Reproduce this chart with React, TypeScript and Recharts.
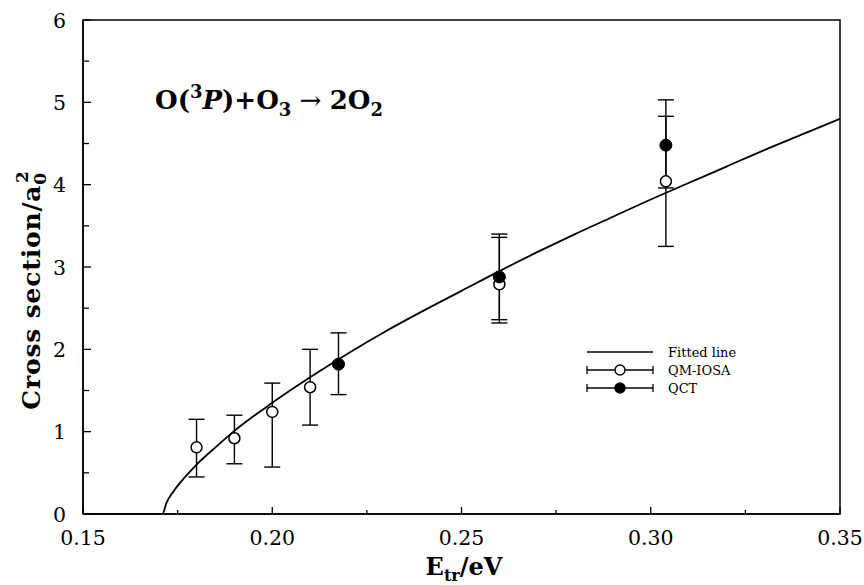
import React from 'react';
import { ComposedChart, Line, Scatter, ErrorBar, XAxis, YAxis, ReferenceArea, Legend } from 'recharts';

// fitted curve
const fitEnergy = [0.15, 0.171, 0.172, 0.174, 0.177, 0.18, 0.185, 0.19, 0.2, 0.21, 0.22, 0.23, 0.24, 0.25, 0.26, 0.27, 0.28, 0.29, 0.3, 0.31, 0.32, 0.33, 0.34, 0.35];
const fitSigma = [0, 0, 0.13, 0.28, 0.45, 0.6, 0.81, 1.01, 1.35, 1.66, 1.95, 2.22, 2.47, 2.71, 2.95, 3.18, 3.4, 3.61, 3.82, 4.02, 4.22, 4.42, 4.61, 4.8];

// QM-IOSA (open circles)
const qmEnergy = [0.18, 0.19, 0.2, 0.21, 0.26, 0.304];
const qmSigma = [0.81, 0.92, 1.24, 1.54, 2.79, 4.04];
const qmLow = [0.45, 0.61, 0.57, 1.08, 2.32, 3.25];
const qmHigh = [1.15, 1.2, 1.59, 2.0, 3.4, 4.83];

// QCT (filled circles)
const qctEnergy = [0.2175, 0.26, 0.304];
const qctSigma = [1.82, 2.88, 4.48];
const qctLow = [1.45, 2.36, 3.96];
const qctHigh = [2.2, 3.36, 5.03];

const xTicks = [0.15, 0.175, 0.2, 0.225, 0.25, 0.275, 0.3, 0.325, 0.35];
const xMajor = [0.15, 0.2, 0.25, 0.3, 0.35];
const yTicks = [0, 0.5, 1, 1.5, 2, 2.5, 3, 3.5, 4, 4.5, 5, 5.5, 6];
const yMajor = [0, 1, 2, 3, 4, 5, 6];

const legendItems = ['Fitted line', 'QM-IOSA', 'QCT'];

const FONT = 'DejaVu Serif, Liberation Serif, serif';

const fitData = fitEnergy.map((x, i) => ({ x, y: fitSigma[i] }));
const qmData = qmEnergy.map((x, i) => ({ x, y: qmSigma[i], err: [qmSigma[i] - qmLow[i], qmHigh[i] - qmSigma[i]] }));
const qctData = qctEnergy.map((x, i) => ({ x, y: qctSigma[i], err: [qctSigma[i] - qctLow[i], qctHigh[i] - qctSigma[i]] }));

const txt = { fontFamily: FONT, fill: '#000' };

const XTick = (props: any) => {
  const { x, y, payload } = props;
  const major = xMajor.includes(payload.value);
  return (
    <g>
      <line x1={x} x2={x} y1={y} y2={y - (major ? 7 : 4)} stroke="#000" strokeWidth={1.3} />
      {major && (
        <text x={x} y={y + 31} textAnchor="middle" style={{ ...txt, fontSize: 20.5 }}>
          {payload.value.toFixed(2)}
        </text>
      )}
    </g>
  );
};

const YTick = (props: any) => {
  const { x, y, payload } = props;
  const major = yMajor.includes(payload.value);
  return (
    <g>
      <line x1={x} x2={x + (major ? 8 : 6)} y1={y} y2={y} stroke="#000" strokeWidth={1.3} />
      {major && (
        <text x={x - 17} y={y + 7.5} textAnchor="end" style={{ ...txt, fontSize: 20.5 }}>
          {payload.value}
        </text>
      )}
    </g>
  );
};

const YLabel = () => {
  const cx = 40;
  const cy = 290;
  return (
    <text
      x={cx}
      y={cy}
      transform={`rotate(-90, ${cx}, ${cy})`}
      textAnchor="middle"
      style={{ ...txt, fontSize: 25, fontWeight: 'bold', letterSpacing: 0.8 }}
    >
      <tspan>Cross section/a</tspan>
      <tspan dy={6} style={{ fontSize: 17 }}>0</tspan>
      <tspan dx={-11} dy={-18} style={{ fontSize: 17 }}>2</tspan>
    </text>
  );
};

const XLabel = () => (
  <text x={464} y={575} textAnchor="middle" style={{ ...txt, fontSize: 24, fontWeight: 'bold' }}>
    <tspan>E</tspan>
    <tspan dy={6} style={{ fontSize: 16 }}>tr</tspan>
    <tspan dy={-6}>/eV</tspan>
  </text>
);

const OpenDot = (props: any) => (
  <circle cx={props.cx} cy={props.cy} r={5.5} fill="#fff" stroke="#000" strokeWidth={1.5} />
);
const FilledDot = (props: any) => (
  <circle cx={props.cx} cy={props.cy} r={6} fill="#000" stroke="#000" strokeWidth={1} />
);

const LegendBox = () => (
  <svg width={200} height={66}>
    <line x1={9} x2={75} y1={14} y2={14} stroke="#000" strokeWidth={1.6} />
    {[32, 50].map((ly, i) => (
      <g key={ly}>
        <line x1={9} x2={75} y1={ly} y2={ly} stroke="#000" strokeWidth={1.3} />
        <line x1={9} x2={9} y1={ly - 4} y2={ly + 4} stroke="#000" strokeWidth={1.3} />
        <line x1={75} x2={75} y1={ly - 4} y2={ly + 4} stroke="#000" strokeWidth={1.3} />
        <circle cx={42} cy={ly} r={5} fill={i === 0 ? '#fff' : '#000'} stroke="#000" strokeWidth={1.4} />
      </g>
    ))}
    {legendItems.map((t, i) => (
      <text key={t} x={90} y={19 + i * 18} style={{ ...txt, fontSize: 13 }}>
        {t}
      </text>
    ))}
  </svg>
);

export default function App() {
  return (
    <div style={{ width: 848, height: 569 }}>
      <div style={{ position: 'fixed', left: 0, top: 0, width: 864, height: 585, background: '#fff' }}>
        <ComposedChart width={864} height={585} margin={{ top: 20, right: 24, bottom: 0, left: 0 }}>
          <XAxis
            dataKey="x"
            type="number"
            domain={[0.15, 0.35]}
            ticks={xTicks}
            allowDataOverflow
            height={71}
            tickSize={0}
            tickMargin={0}
            tickLine={false}
            axisLine={{ stroke: '#000', strokeWidth: 1.5 }}
            tick={<XTick />}
            interval={0}
            label={{ content: <XLabel /> }}
          />
          <YAxis
            type="number"
            domain={[0, 6]}
            ticks={yTicks}
            allowDataOverflow
            width={83}
            tickSize={0}
            tickMargin={0}
            tickLine={false}
            axisLine={{ stroke: '#000', strokeWidth: 1.5 }}
            tick={<YTick />}
            interval={0}
            label={{ content: <YLabel /> }}
          />
          <ReferenceArea x1={0.15} x2={0.35} y1={0} y2={6} fill="none" stroke="#000" strokeWidth={1.5} />
          <Line
            data={fitData}
            dataKey="y"
            type="monotone"
            dot={false}
            stroke="#000"
            strokeWidth={1.8}
            isAnimationActive={false}
            name="Fitted line"
          />
          <Scatter data={qmData} dataKey="y" shape={<OpenDot />} isAnimationActive={false} name="QM-IOSA">
            <ErrorBar dataKey="err" direction="y" width={8} stroke="#000" strokeWidth={1.4} isAnimationActive={false} />
          </Scatter>
          <Scatter data={qctData} dataKey="y" shape={<FilledDot />} isAnimationActive={false} name="QCT">
            <ErrorBar dataKey="err" direction="y" width={8} stroke="#000" strokeWidth={1.4} isAnimationActive={false} />
          </Scatter>
          <Legend
            layout="vertical"
            align="center"
            verticalAlign="middle"
            content={<LegendBox />}
            wrapperStyle={{ left: 578, top: 338, width: 200 }}
          />
        </ComposedChart>
        <svg width={864} height={585} style={{ position: 'absolute', left: 0, top: 0, pointerEvents: 'none' }}>
          <text x={155} y={109} style={{ ...txt, fontSize: 26, fontWeight: 'bold' }}>
            <tspan>O(</tspan>
            <tspan dy={-11} style={{ fontSize: 18 }}>3</tspan>
            <tspan dy={11} style={{ fontStyle: 'italic' }}>P</tspan>
            <tspan>)+O</tspan>
            <tspan dy={7} style={{ fontSize: 18 }}>3</tspan>
            <tspan dy={-7} style={{ fontWeight: 'normal' }}> → </tspan>
            <tspan>2O</tspan>
            <tspan dy={7} style={{ fontSize: 18 }}>2</tspan>
          </text>
        </svg>
      </div>
    </div>
  );
}
